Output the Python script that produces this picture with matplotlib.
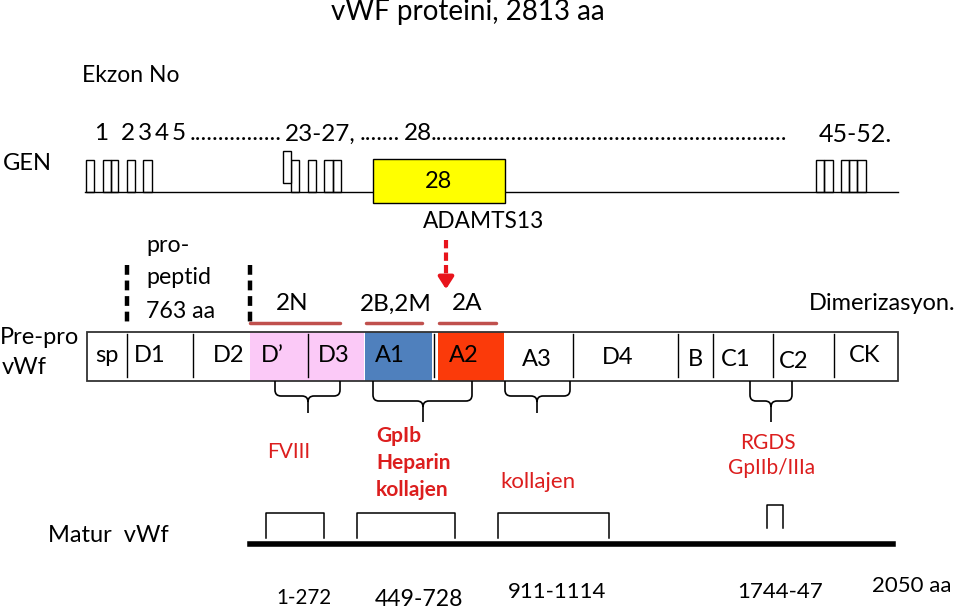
import matplotlib
matplotlib.use('Agg')
import matplotlib.pyplot as plt
from matplotlib.patches import Rectangle, PathPatch
from matplotlib.path import Path

plt.rcParams['font.family'] = ['Lato', 'DejaVu Sans']

RED = '#dc1e1e'

# gene: exon boxes (x start, x end)
exons_left = [(86, 94), (103, 111), (111, 118), (127, 135), (143, 152)]
exons_mid = [(291, 299), (308, 316), (324, 333), (333, 341)]
exon_raised = (283, 291)
exon28 = (373, 505)
exons_right = [(816, 824), (824, 833), (841, 849), (849, 857), (857, 866)]
exon_nums = ['1', '2', '3', '4', '5']
exon_num_x = [101, 128, 145, 162, 179]

# pre-pro vWf domains
dom_names = ['sp', 'D1', 'D2', 'D\u2019', 'D3', 'A1', 'A2', 'A3', 'D4', 'B', 'C1', 'C2', 'CK']
dom_label_x = [107, 150, 229, 272, 334, 390, 464, 537, 618, 695, 736, 794, 865]
dom_label_y = [356, 356, 356, 356, 356, 356, 356, 360, 358, 360, 360, 362, 355]
dividers = [127, 193, 308, 434, 573, 678, 713, 773, 834]
fills = [(250, 364, '#fbc9f7'), (365, 432, '#4f80bd'), (438, 504, '#fb3a0a')]

# vWD type regions
types = ['2N', '2B,2M', '2A']
type_x = [292, 396, 467]
type_span = [(250, 340), (366, 422), (439, 496)]

# binding regions: brace (x0, x1, tip x, flat y, tip y)
braces = [(275, 340, 308, 396, 413), (373, 472, 423, 401, 422),
          (505, 570, 537, 396, 413), (750, 792, 771, 401, 422)]

# mature vWf brackets and labels
brackets = [(266, 324, 513), (357, 455, 513), (498, 609, 513), (767, 783, 505)]
aa_labels = ['1-272', '449-728', '911-1114', '1744-47', '2050 aa']
aa_x = [304, 419, 557, 780, 912]
aa_y = [598, 600, 592, 592, 586]
aa_size = [14.8, 16.6, 16, 16, 16]

fig = plt.figure(figsize=(9.59, 6.09), dpi=100)
ax = fig.add_axes([0, 0, 1, 1])
ax.set_xlim(0, 959)
ax.set_ylim(609, 0)
ax.axis('off')


def txt(x, y, s, size=17, **kw):
    kw.setdefault('ha', 'center')
    kw.setdefault('va', 'center')
    return ax.text(x, y, s, fontsize=size, **kw)


def dots(x0, x1, y, size=17.5):
    # fill a span with periods
    r = fig.canvas.get_renderer()
    probe = ax.text(0, 0, '.' * 20, fontsize=size)
    w = probe.get_window_extent(r).width / 20
    probe.remove()
    n = int((x1 - x0) / w)
    txt(x0, y, '.' * n, size, ha='left')


def brace(x0, x1, xt, yf, yt, ytop=381, r=6):
    verts = [(x0, ytop), (x0, yf - r), (x0, yf), (x0 + r, yf),
             (xt - r, yf), (xt, yf), (xt, yf + r), (xt, yt),
             (xt, yf + r), (xt, yf), (xt + r, yf),
             (x1 - r, yf), (x1, yf), (x1, yf - r), (x1, ytop)]
    codes = [Path.MOVETO, Path.LINETO, Path.CURVE3, Path.CURVE3,
             Path.LINETO, Path.CURVE3, Path.CURVE3, Path.LINETO,
             Path.MOVETO, Path.CURVE3, Path.CURVE3,
             Path.LINETO, Path.CURVE3, Path.CURVE3, Path.LINETO]
    ax.add_patch(PathPatch(Path(verts, codes), fill=False, lw=1.2, ec='black'))


# ---- titles ----
txt(468, 12, 'vWF proteini, 2813 aa', 20)
txt(82, 75, 'Ekzon No', 16.5, ha='left')
txt(3, 163, 'GEN', 17, ha='left')

# ---- gene ----
ax.plot([85, 898], [192, 192], color='black', lw=1)
for a, b in exons_left + exons_mid + exons_right:
    ax.add_patch(Rectangle((a, 160), b - a, 32, fill=False, ec='black', lw=1))
ax.add_patch(Rectangle((exon_raised[0], 151), exon_raised[1] - exon_raised[0], 32,
                       facecolor='white', ec='black', lw=1))
ax.add_patch(Rectangle((exon28[0], 159), exon28[1] - exon28[0], 44,
                       facecolor='#ffff00', ec='black', lw=1, zorder=3))
txt((exon28[0] + exon28[1]) / 2, 181, '28', 17, zorder=4)

for s, x in zip(exon_nums, exon_num_x):
    txt(x, 134, s, 17.5)
dots(190, 285, 134)
txt(285, 134, '23-27,', 17.5, ha='left')
dots(360, 404, 134)
txt(404, 134, '28', 17.5, ha='left')
dots(431, 788, 134)
txt(819, 134, '45-52.', 18, ha='left')

# ---- pre-pro vWf ----
txt(0, 337, 'Pre-pro', 17, ha='left')
txt(2, 368, 'vWf', 17, ha='left')
for a, b, c in fills:
    ax.add_patch(Rectangle((a, 332), b - a, 49, facecolor=c, ec='none'))
ax.add_patch(Rectangle((87, 332), 898 - 87, 49, fill=False, ec='#333333', lw=1.3))
for d in dividers:
    ax.plot([d, d], [334, 377], color='black', lw=1)
for name, x, y in zip(dom_names, dom_label_x, dom_label_y):
    txt(x, y, name, 17)

for x in [127, 250]:
    ax.plot([x, x], [265, 323], color='black', lw=3.2, ls=(0, (2.2, 1.3)))
txt(146, 245, 'pro-', 16.7, ha='left')
txt(146, 277, 'peptid', 16.7, ha='left')
txt(146, 312, '763 aa', 16.7, ha='left')

for name, x, (a, b) in zip(types, type_x, type_span):
    txt(x, 304, name, 17.5)
    ax.plot([a, b], [323, 323], color='#c0504d', lw=2.5, solid_capstyle='round')

txt(484, 222, 'ADAMTS13', 16.3)
ax.plot([446, 446], [240, 280], color='#e8141c', lw=3, ls=(0, (2, 1)))
ax.annotate('', xy=(446, 292), xytext=(446, 276),
            arrowprops=dict(arrowstyle='-|>,head_width=0.45,head_length=0.7',
                            color='#e8141c', lw=3))
txt(809, 303, 'Dimerizasyon.', 17, ha='left')

# ---- binding sites ----
for b in braces:
    brace(*b)
txt(289, 452, 'FVIII', 15, color=RED)
txt(376, 436, 'GpIb', 15, color=RED, ha='left', weight='bold')
txt(376, 463, 'Heparin', 15, color=RED, ha='left', weight='bold')
txt(376, 490, 'kollajen', 15, color=RED, ha='left', weight='bold')
txt(538, 482, 'kollajen', 16, color=RED)
txt(768, 443, 'RGDS', 15, color=RED)
txt(772, 468, 'GpIIb/IIIa', 15, color=RED)

# ---- mature vWf ----
txt(48, 535, 'Matur  vWf', 17, ha='left')
ax.plot([250, 893], [544, 544], color='black', lw=4)
for a, b, top in brackets:
    bottom = 538 if top > 508 else 528
    ax.plot([a, a, b, b], [bottom, top, top, bottom], color='black', lw=1.1)
for s, x, y, fs in zip(aa_labels, aa_x, aa_y, aa_size):
    txt(x, y, s, fs)

fig.savefig('out.png', dpi=100)
